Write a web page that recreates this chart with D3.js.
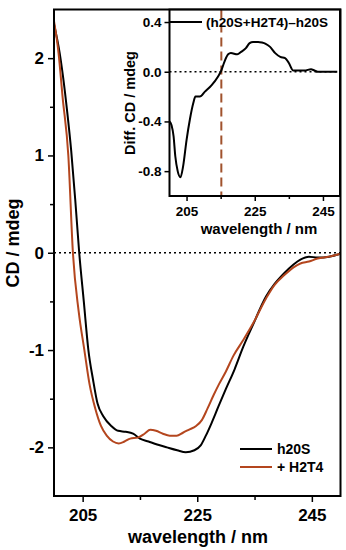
<!DOCTYPE html>
<html>
<head>
<meta charset="utf-8">
<script src="https://cdn.jsdelivr.net/npm/d3@7"></script>
<style>
body { margin: 0; background: #fff; }
text { font-family: "Liberation Sans", Arial, sans-serif; font-weight: bold; fill: #000; }
</style>
</head>
<body>
<script>
// CD spectra, h20S alone and with H2T4, plus difference inset

var h20S = [[200,2.35],[201,2.05],[201.6,1.8],[202.3,1.45],[203,1.05],[203.7,0.55],[204.4,0],[205.2,-0.5],
  [206,-1.0],[206.8,-1.3],[207.6,-1.55],[208.6,-1.68],[210,-1.78],[211.2,-1.83],[212.5,-1.84],[213.8,-1.86],
  [215,-1.91],[216.5,-1.94],[218,-1.97],[219.7,-2.0],[221.5,-2.03],[223,-2.05],[224.5,-2.03],[225.6,-1.98],
  [226.5,-1.88],[227.5,-1.75],[228.7,-1.58],[230,-1.4],[231.5,-1.2],[233,-0.97],[234.8,-0.73],[237,-0.45],
  [238.5,-0.32],[240,-0.22],[241.8,-0.12],[243,-0.07],[244.5,-0.04],[246,-0.05],[248,-0.04],[250,-0.01]];

var h20S_H2T4 = [[200,2.38],[200.8,2.05],[201.5,1.6],[202.5,1.0],[203.3,0],[204.3,-0.6],[205.3,-1.0],[206.2,-1.35],
  [207.2,-1.6],[208.2,-1.78],[209.2,-1.88],[210.3,-1.94],[211.3,-1.96],[212.3,-1.94],[213.3,-1.91],[214.6,-1.9],
  [215.8,-1.86],[216.8,-1.82],[217.8,-1.83],[219,-1.86],[220.2,-1.88],[221.4,-1.88],[222.5,-1.85],[223.5,-1.82],
  [224.8,-1.78],[225.8,-1.72],[226.8,-1.6],[227.8,-1.47],[228.8,-1.35],[230,-1.22],[231.3,-1.06],[233,-0.9],
  [234.8,-0.72],[237,-0.47],[238.5,-0.33],[240,-0.24],[241.8,-0.15],[243,-0.11],[244.5,-0.09],[246,-0.06],
  [248,-0.04],[250,-0.01]];

var diff = [[200,-0.40],[200.6,-0.43],[201.2,-0.52],[201.7,-0.68],[202.4,-0.80],[203.2,-0.85],[204,-0.76],
  [205,-0.55],[206,-0.38],[207,-0.25],[207.6,-0.2],[208.9,-0.2],[210.4,-0.16],[212.3,-0.11],[214.2,-0.04],
  [215.2,0.01],[216.1,0.08],[217.2,0.14],[218,0.15],[219.9,0.14],[221,0.16],[222.4,0.19],[223.5,0.23],
  [224.5,0.24],[226,0.24],[227.1,0.235],[228.2,0.225],[229.5,0.2],[231,0.15],[232.5,0.12],[233.9,0.11],
  [235,0.07],[236.3,0.01],[238,0.01],[239.6,0.01],[241.5,0.02],[242.5,0.01],[243.5,0],[246,0],[249.2,0]];

var xTicks = [205, 225, 245];
var xMinor = [215, 235];
var yTicks = [2, 1, 0, -1, -2];
var yMinor = [1.5, 0.5, -0.5, -1.5];
var insetYTicks = [0.4, 0.0, -0.4, -0.8];
var marker = 215.2;   // crossing wavelength, dashed line in inset

var red = "#b4461e";

var svg = d3.select("body").append("svg")
  .attr("width", 346)
  .attr("height", 550);

// main plot
var x = d3.scaleLinear().domain([200, 250]).range([54, 340.5]);
var y = d3.scaleLinear().domain([-2.5, 2.5]).range([496, 9.5]);

var line = d3.line()
  .x(function(d) { return x(d[0]); })
  .y(function(d) { return y(d[1]); })
  .curve(d3.curveMonotoneX);

svg.append("line")
  .attr("x1", x(200)).attr("x2", x(250))
  .attr("y1", y(0)).attr("y2", y(0))
  .attr("stroke", "#000").attr("stroke-width", 1.5)
  .attr("stroke-dasharray", "2,3");

svg.append("path").datum(h20S)
  .attr("d", line).attr("fill", "none")
  .attr("stroke", "#000").attr("stroke-width", 2);

svg.append("path").datum(h20S_H2T4)
  .attr("d", line).attr("fill", "none")
  .attr("stroke", red).attr("stroke-width", 2);

var fmt = function(d) { return String(d); };

var xAxis = svg.append("g")
  .attr("transform", "translate(0," + y(-2.5) + ")")
  .call(d3.axisBottom(x).tickValues(xTicks).tickSize(6).tickPadding(7).tickFormat(fmt));
svg.append("g")
  .attr("transform", "translate(0," + y(-2.5) + ")")
  .call(d3.axisBottom(x).tickValues(xMinor).tickSize(4).tickFormat(""));

var yAxis = svg.append("g")
  .attr("transform", "translate(" + x(200) + ",0)")
  .call(d3.axisLeft(y).tickValues(yTicks).tickSize(6).tickPadding(4).tickFormat(fmt));
svg.append("g")
  .attr("transform", "translate(" + x(200) + ",0)")
  .call(d3.axisLeft(y).tickValues(yMinor).tickSize(4).tickFormat(""));

svg.selectAll(".domain").remove();
svg.selectAll(".tick line").attr("stroke-width", 1.5);
xAxis.selectAll("text").style("font-size", "17px");
yAxis.selectAll("text").style("font-size", "17px");

svg.append("rect")
  .attr("x", x(200)).attr("y", y(2.5))
  .attr("width", x(250) - x(200)).attr("height", y(-2.5) - y(2.5))
  .attr("fill", "none").attr("stroke", "#000").attr("stroke-width", 2);

svg.append("text")
  .attr("x", 198).attr("y", 543)
  .attr("text-anchor", "middle")
  .style("font-size", "18px")
  .text("wavelength / nm");

svg.append("text")
  .attr("transform", "translate(19,243) rotate(-90)")
  .attr("text-anchor", "middle")
  .style("font-size", "18px")
  .text("CD / mdeg");

// legend
var legend = [["h20S", "#000"], ["+ H2T4", red]];
legend.forEach(function(l, i) {
  var ly = 449 + i * 18;
  svg.append("line")
    .attr("x1", 240).attr("x2", 272).attr("y1", ly).attr("y2", ly)
    .attr("stroke", l[1]).attr("stroke-width", 2);
  svg.append("text")
    .attr("x", 277).attr("y", ly + 5)
    .style("font-size", "14px")
    .text(l[0]);
});

// inset
var xi = d3.scaleLinear().domain([200, 250]).range([169.5, 340]);
var yi = d3.scaleLinear().domain([-1.0, 0.5]).range([196, 9.6]);

var inset = svg.append("g");

inset.append("rect")
  .attr("x", xi(200)).attr("y", yi(0.5))
  .attr("width", xi(250) - xi(200)).attr("height", yi(-1) - yi(0.5))
  .attr("fill", "#fff");

inset.append("line")
  .attr("x1", xi(200)).attr("x2", xi(250))
  .attr("y1", yi(0)).attr("y2", yi(0))
  .attr("stroke", "#000").attr("stroke-width", 1.5)
  .attr("stroke-dasharray", "2,3");

inset.append("line")
  .attr("x1", xi(marker)).attr("x2", xi(marker))
  .attr("y1", yi(0.5)).attr("y2", yi(-1))
  .attr("stroke", "#a0522d").attr("stroke-width", 2)
  .attr("stroke-dasharray", "9,5");

var linei = d3.line()
  .x(function(d) { return xi(d[0]); })
  .y(function(d) { return yi(d[1]); })
  .curve(d3.curveMonotoneX);

inset.append("path").datum(diff)
  .attr("d", linei).attr("fill", "none")
  .attr("stroke", "#000").attr("stroke-width", 2);

var xiAxis = inset.append("g")
  .attr("transform", "translate(0," + yi(-1) + ")")
  .call(d3.axisBottom(xi).tickValues(xTicks).tickSize(5).tickPadding(5).tickFormat(fmt));
inset.append("g")
  .attr("transform", "translate(0," + yi(-1) + ")")
  .call(d3.axisBottom(xi).tickValues(xMinor).tickSize(3).tickFormat(""));

var yiAxis = inset.append("g")
  .attr("transform", "translate(" + xi(200) + ",0)")
  .call(d3.axisLeft(yi).tickValues(insetYTicks).tickSize(5).tickPadding(3)
    .tickFormat(function(d) { return d3.format(".1f")(d).replace("\u2212", "-"); }));

inset.selectAll(".domain").remove();
inset.selectAll(".tick line").attr("stroke-width", 1.5);
xiAxis.selectAll("text").style("font-size", "13.5px");
yiAxis.selectAll("text").style("font-size", "13.5px");

inset.append("rect")
  .attr("x", xi(200)).attr("y", yi(0.5))
  .attr("width", xi(250) - xi(200)).attr("height", yi(-1) - yi(0.5))
  .attr("fill", "none").attr("stroke", "#000").attr("stroke-width", 2);

inset.append("text")
  .attr("x", 259).attr("y", 234)
  .attr("text-anchor", "middle")
  .style("font-size", "15px")
  .text("wavelength / nm");

inset.append("text")
  .attr("transform", "translate(135,103) rotate(-90)")
  .attr("text-anchor", "middle")
  .style("font-size", "14.5px")
  .text("Diff. CD / mdeg");

inset.append("line")
  .attr("x1", 170).attr("x2", 202).attr("y1", yi(0.4)).attr("y2", yi(0.4))
  .attr("stroke", "#000").attr("stroke-width", 2);
inset.append("text")
  .attr("x", 206).attr("y", yi(0.4) + 5)
  .style("font-size", "13.5px")
  .text("(h20S+H2T4)\u2013h20S");
</script>
</body>
</html>
